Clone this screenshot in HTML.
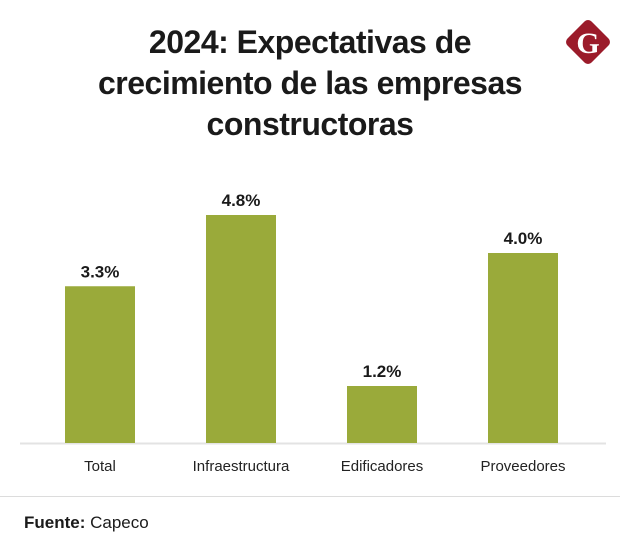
<!DOCTYPE html>
<html><head><meta charset="utf-8"><style>
body{margin:0;background:#fff;width:620px;height:551px;overflow:hidden;font-family:"Liberation Sans",sans-serif;}
#title{position:absolute;left:0;top:22px;width:620px;text-align:center;font-weight:bold;font-size:32px;line-height:41px;color:#1a1a1a;letter-spacing:-0.5px}
</style></head><body>
<div id="title">2024: Expectativas de<br>crecimiento de las empresas<br>constructoras</div>
<svg width="620" height="551" style="position:absolute;left:0;top:0" id="svg">
<g>
<rect x="571" y="25" width="34" height="34" rx="5" fill="#9b1b2a" transform="rotate(45 588 42)"/>
<text x="588" y="53" text-anchor="middle" font-family="Liberation Serif" font-weight="bold" font-size="30" fill="#fff">G</text>
</g>
<line x1="20" y1="443.5" x2="606" y2="443.5" stroke="#e3e3e3" stroke-width="2"/>
<line x1="0" y1="496.5" x2="620" y2="496.5" stroke="#dcdcdc" stroke-width="1"/>
<text x="24" y="528" font-size="17" fill="#1a1a1a"><tspan font-weight="bold">Fuente:</tspan> Capeco</text>
<g id="bars"></g>
</svg>
<script>
const categories=["Total","Infraestructura","Edificadores","Proveedores"];
const values=[3.3,4.8,1.2,4.0];
const valueLabels=["3.3%","4.8%","1.2%","4.0%"];
const NS="http://www.w3.org/2000/svg";
const g=document.getElementById('bars');
const base=443, scale=47.5;
function y(v){return base-v*scale;}
function x(i){return 65+i*141;}
const bw=70;
categories.forEach((c,i)=>{
  const r=document.createElementNS(NS,'rect');
  r.setAttribute('x',x(i));r.setAttribute('y',y(values[i]));
  r.setAttribute('width',bw);r.setAttribute('height',base-y(values[i]));
  r.setAttribute('fill','#9aaa3a');
  
  
  g.appendChild(r);
  const t=document.createElementNS(NS,'text');
  t.setAttribute('x',x(i)+bw/2);t.setAttribute('y',y(values[i])-9);
  t.setAttribute('text-anchor','middle');t.setAttribute('font-size','17');t.setAttribute('font-weight','bold');t.setAttribute('fill','#1a1a1a');
  t.textContent=valueLabels[i];
  
  
  g.appendChild(t);
  const l=document.createElementNS(NS,'text');
  l.setAttribute('x',x(i)+bw/2);l.setAttribute('y',471);
  l.setAttribute('text-anchor','middle');l.setAttribute('font-size','15');l.setAttribute('fill','#222');
  l.textContent=c;
  
  
  g.appendChild(l);
});
</script>
</body></html>
